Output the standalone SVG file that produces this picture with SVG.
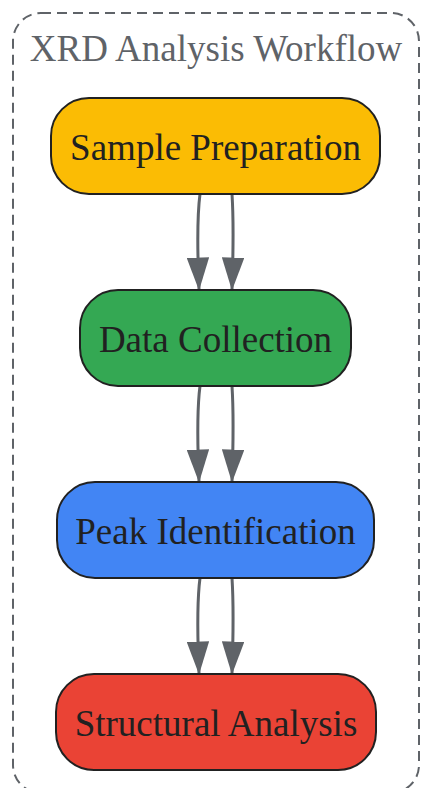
<svg xmlns="http://www.w3.org/2000/svg" width="421" height="788" viewBox="0 0 421 788">
<defs>
<style>
.node rect{stroke:#212121;stroke-width:2}
.node text{font-family:"Liberation Serif","Times New Roman",serif;font-size:37px;fill:#212121;text-anchor:middle}
.edge{fill:none;stroke:#5f6368;stroke-width:3}
.title{font-family:"Liberation Serif","Times New Roman",serif;font-size:37px;fill:#5f6368;text-anchor:middle}
</style>
<marker id="arr" markerWidth="11" markerHeight="7.5" refX="10.5" refY="3.75" orient="auto" markerUnits="strokeWidth" viewBox="0 0 11 7.5">
<path d="M0,0 L11,3.75 L0,7.5 z" fill="#5f6368"/>
</marker>
</defs>
<rect width="421" height="788" fill="#ffffff"/>
<g id="cluster">
<rect x="13" y="13" width="406" height="780" rx="28" ry="28" fill="none" stroke="#5f6368" stroke-width="2" stroke-dasharray="10,6"/>
<text class="title" x="216" y="61">XRD Analysis Workflow</text>
</g>
<g id="edges">
<path class="edge" d="M200,194 C196,225 198,260 199,289" marker-end="url(#arr)"/>
<path class="edge" d="M232,194 C234,225 233,260 232,289" marker-end="url(#arr)"/>
<path class="edge" d="M200,386 C196,417 198,452 199,481" marker-end="url(#arr)"/>
<path class="edge" d="M232,386 C234,417 233,452 232,481" marker-end="url(#arr)"/>
<path class="edge" d="M200,578 C196,609 198,644 199,673" marker-end="url(#arr)"/>
<path class="edge" d="M232,578 C234,609 233,644 232,673" marker-end="url(#arr)"/>
</g>
<g id="sample" class="node">
<rect x="51" y="98" width="329" height="96" rx="38" fill="#fbbc04"/>
<text x="215.5" y="160">Sample Preparation</text>
</g>
<g id="collection" class="node">
<rect x="80" y="290" width="271" height="96" rx="38" fill="#34a853"/>
<text x="215.5" y="352">Data Collection</text>
</g>
<g id="peak" class="node">
<rect x="57" y="482" width="317" height="96" rx="38" fill="#4285f4"/>
<text x="215.5" y="544">Peak Identification</text>
</g>
<g id="structural" class="node">
<rect x="56" y="674" width="320" height="96" rx="38" fill="#ea4335"/>
<text x="216" y="736">Structural Analysis</text>
</g>
</svg>
